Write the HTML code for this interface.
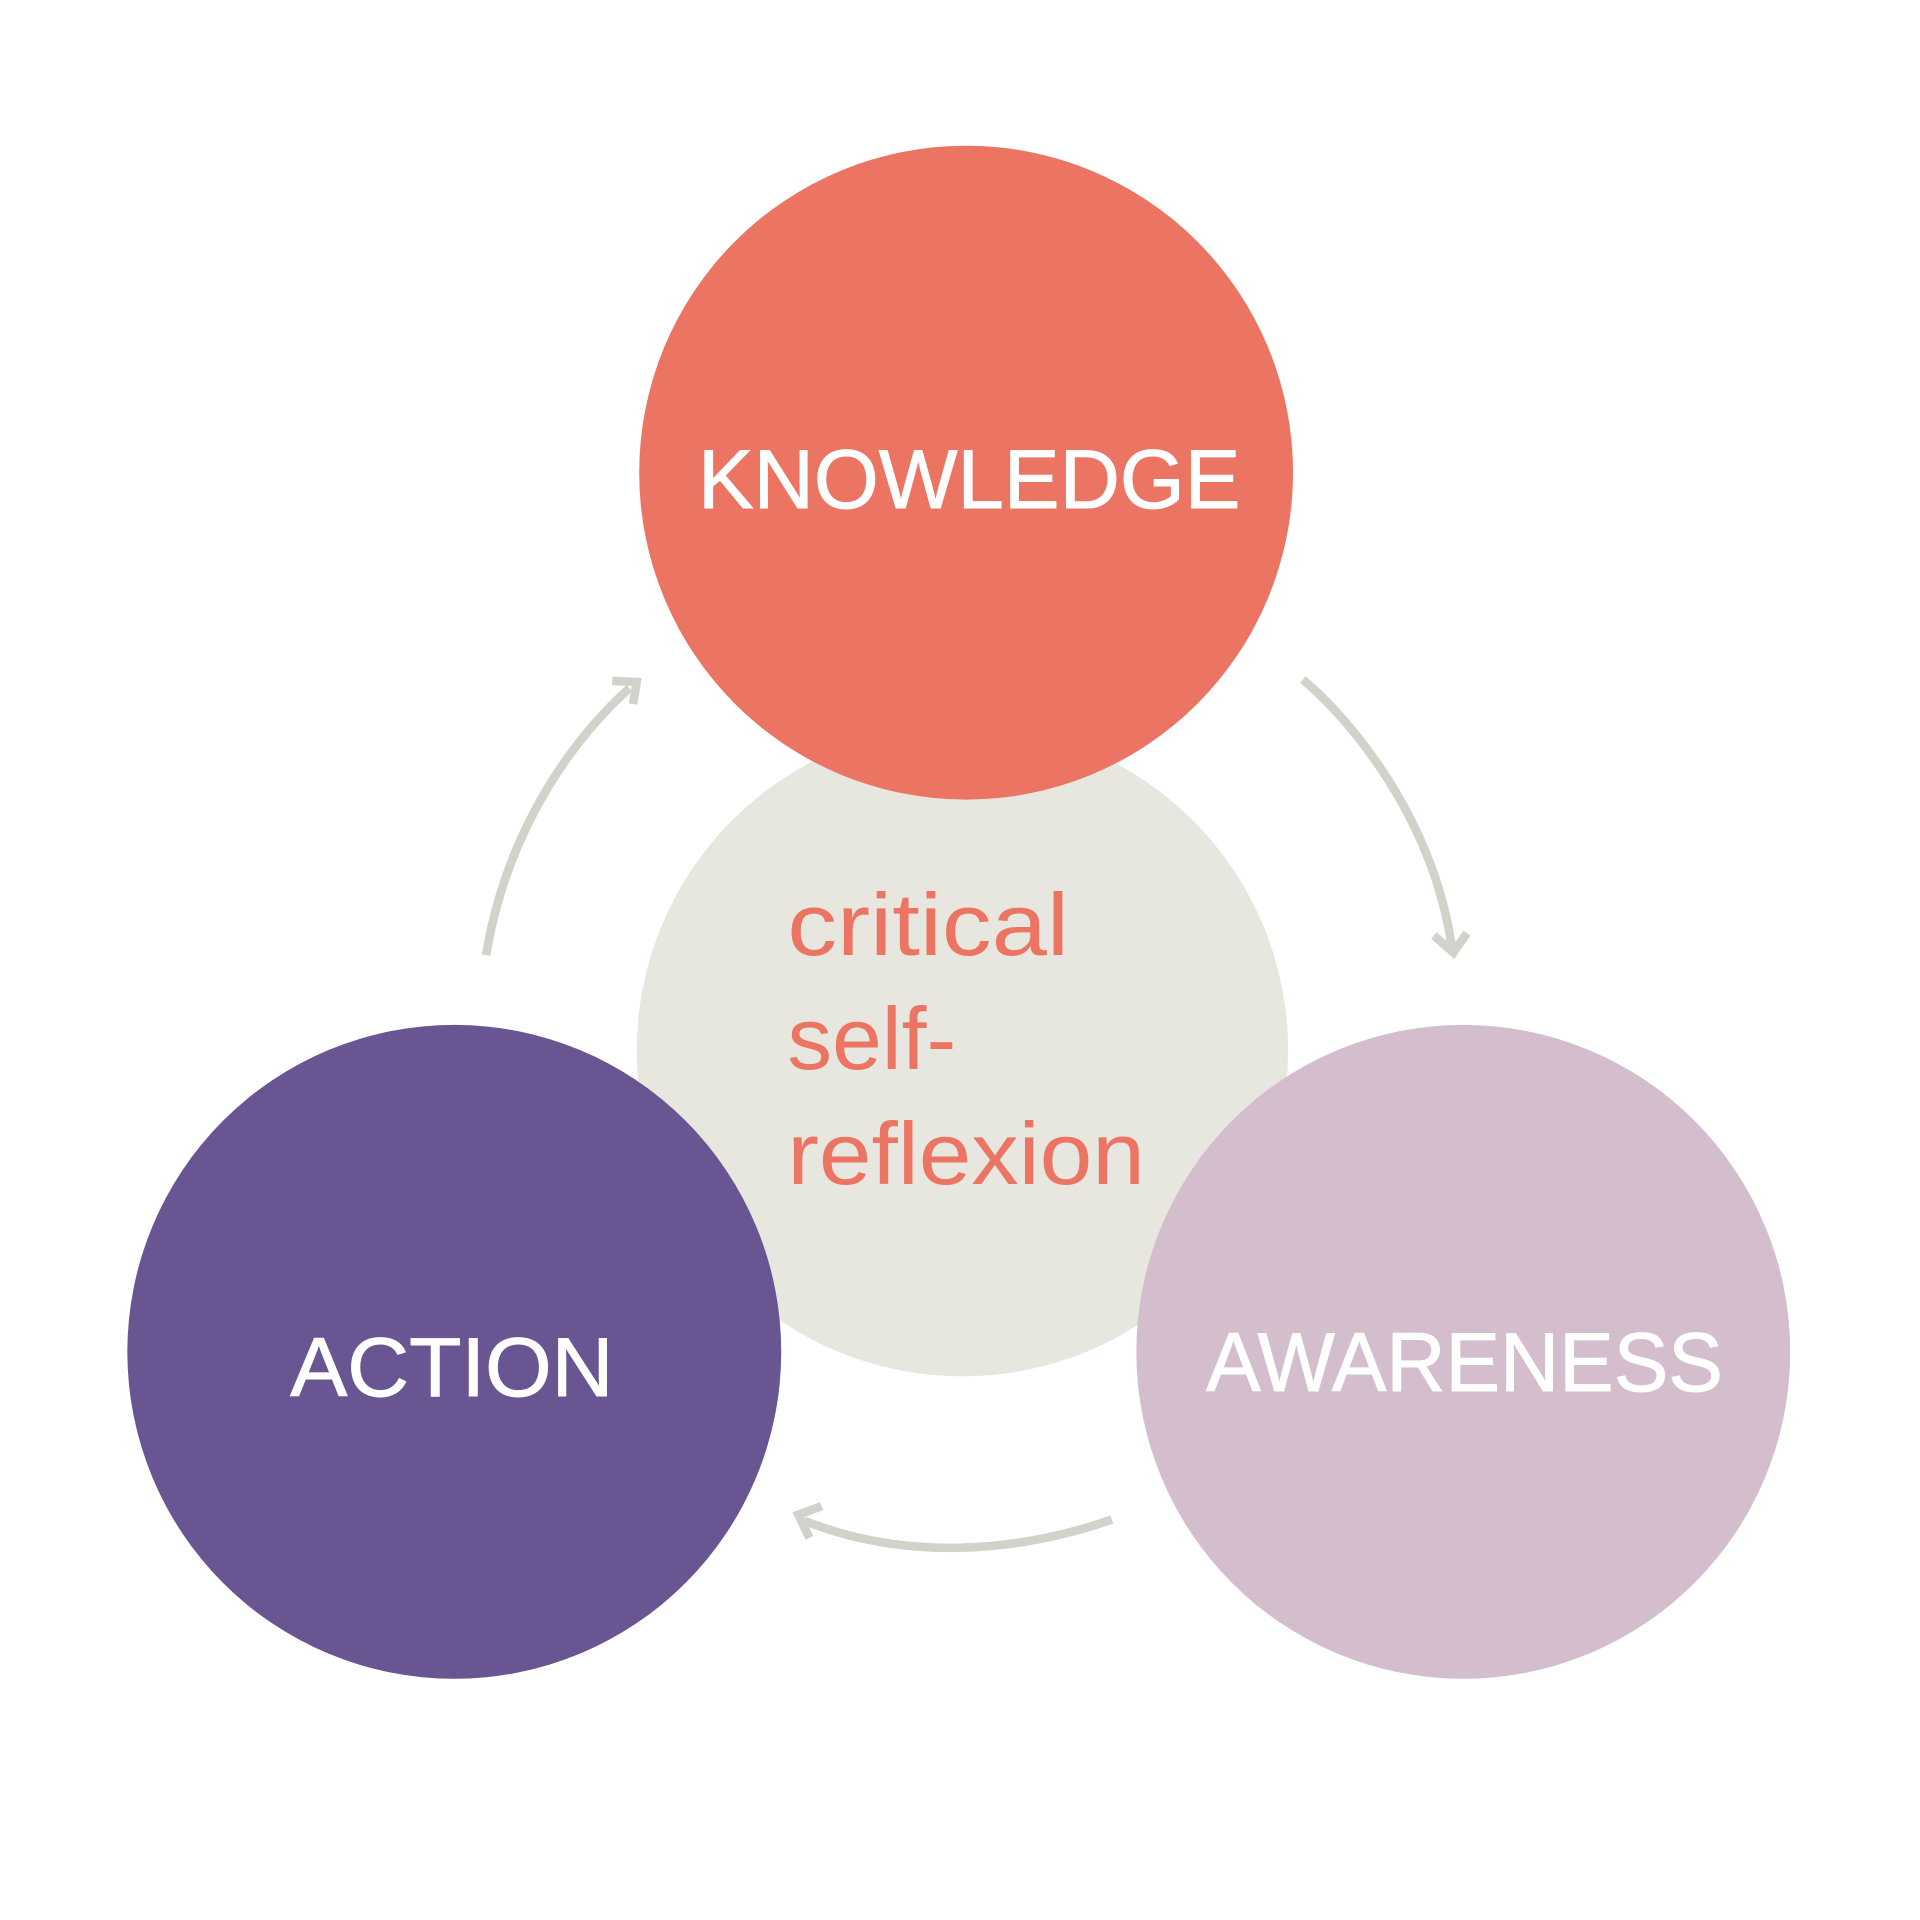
<!DOCTYPE html>
<html><head><meta charset="utf-8"><style>
html,body{margin:0;padding:0;background:#fff;width:1920px;height:1920px;overflow:hidden}
svg{display:block}
</style></head><body>
<svg width="1920" height="1920" viewBox="0 0 1568 1568" xmlns="http://www.w3.org/2000/svg">
<rect width="1568" height="1568" fill="#fff"/>
<circle cx="786" cy="858" r="266" fill="#E7E6DF"/>
<circle cx="789" cy="386" r="267" fill="#EB7462"/>
<circle cx="371" cy="1104" r="267" fill="#685592"/>
<circle cx="1195" cy="1104" r="267" fill="#D4BECE"/>
<g fill="none" stroke="#D2D1CA" stroke-width="7">
<path d="M397 780 C410 700 450 620 514 562"/>
<path d="M500 556 L520 557 L517 575"/>
<path d="M1064 555 C1100 585 1170 665 1186 775"/>
<path d="M1171 764 L1187 778 L1198 762"/>
<path d="M908 1241 C830 1268 740 1275 657 1242"/>
<path d="M671 1230 L652 1237 L661 1256"/>
</g>
<g font-family="'Liberation Sans',sans-serif" fill="#fff" font-size="68" stroke="#fff" stroke-width="0.8">
<text x="570" y="415" textLength="443" lengthAdjust="spacingAndGlyphs">KNOWLEDGE</text>
<text x="237" y="1140" textLength="264" lengthAdjust="spacingAndGlyphs">ACTION</text>
<text x="985" y="1136" textLength="422" lengthAdjust="spacingAndGlyphs">AWARENESS</text>
</g>
<g font-family="'Liberation Sans',sans-serif" fill="#EB7462" font-size="72">
<text x="643" y="780" textLength="230" lengthAdjust="spacingAndGlyphs">critical</text>
<text x="643" y="873" textLength="138" lengthAdjust="spacingAndGlyphs">self-</text>
<text x="643" y="967" textLength="292" lengthAdjust="spacingAndGlyphs">reflexion</text>
</g>
</svg>
</body></html>
